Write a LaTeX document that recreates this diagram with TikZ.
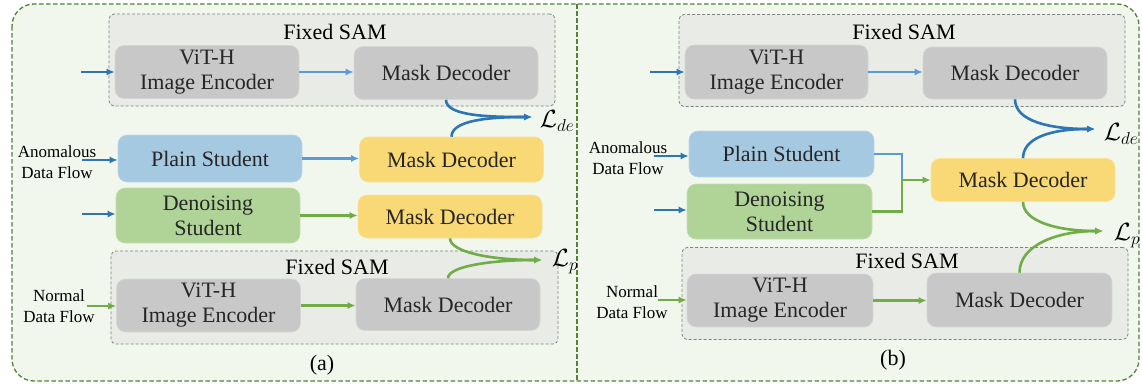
\documentclass[tikz,border=0pt]{standalone}
\usepackage{fontspec}
\setmainfont{Liberation Serif}
\usepackage{xcolor}
\usepackage{tikz}
\usetikzlibrary{arrows.meta,positioning,calc}
\definecolor{framegreen}{RGB}{84,130,53}
\definecolor{panelbg}{RGB}{241,247,237}
\definecolor{sambg}{RGB}{233,236,230}
\definecolor{samgray}{RGB}{130,130,130}
\definecolor{modgray}{RGB}{200,200,200}
\definecolor{plainblue}{RGB}{166,201,226}
\definecolor{denoisegreen}{RGB}{176,211,152}
\definecolor{decyellow}{RGB}{248,217,117}
\definecolor{flowblue}{RGB}{46,117,182}
\definecolor{lightblue}{RGB}{91,155,213}
\definecolor{flowgreen}{RGB}{112,173,71}
\definecolor{textdark}{RGB}{38,38,38}

\begin{document}
\begin{tikzpicture}[x=1pt,y=-1pt,
    module/.style={
      rectangle,
      fill=#1,
      draw=#1!75!white,
      line width=0.6pt,
      rounded corners=9pt,
      minimum width=184pt,
      minimum height=53pt,
      inner sep=0pt,
      align=center,
      text=textdark,
      font=\fontsize{22}{25}\selectfont
    },
    sambox/.style={rectangle, draw=samgray, fill=sambg, dash pattern=on 3pt off 2pt,
      line width=0.8pt, rounded corners=5pt, minimum width=446pt, minimum height=92pt, inner sep=0pt},
    samtitle/.style={font=\fontsize{22}{25}\selectfont, text=black},
    flowlabel/.style={font=\fontsize{17}{21}\selectfont, align=center, text=black},
    losslabel/.style={font=\fontsize{24}{27}\selectfont},
    frame/.style={draw=framegreen, line width=1.3pt, dash pattern=on 4.5pt off 2.5pt},
    bluearrow/.style={-{Latex[length=8pt,width=7pt]}, line width=2.6pt, flowblue},
    lightarrow/.style={-{Latex[length=8pt,width=7pt]}, line width=2.6pt, lightblue},
    greenarrow/.style={-{Latex[length=8pt,width=7pt]}, line width=2.6pt, flowgreen}
  ]
    \useasboundingbox (0,0) rectangle (1142,383);
    \draw[frame, fill=panelbg, rounded corners=22pt] (12,4) rectangle (1139,381);
    \draw[frame] (577,4) -- (577,381);

    % (a)
    \node[sambox] (samAtop) at (332,60) {};
    \node[samtitle] (samAtopT) at (335,32) {Fixed SAM};
    \node[module=modgray] (encAtop) at (207,72) {ViT-H\\Image Encoder};
    \node[module=modgray] (decAtop) at (446,73) {Mask Decoder};
    \node[module=plainblue, minimum height=47pt] (plainA) at (210,158.5) {Plain Student};
    \node[module=decyellow, minimum height=45pt] (mdA1) at (451.5,159.5) {Mask Decoder};
    \node[module=denoisegreen, minimum height=55pt] (denA) at (208,215.5) {Denoising\\Student};
    \node[module=decyellow, minimum height=43pt] (mdA2) at (450,216.5) {Mask Decoder};
    \node[sambox, minimum width=447pt, minimum height=93pt] (samAbot) at (334.5,297.5) {};
    \node[samtitle] (samAbotT) at (337,267) {Fixed SAM};
    \node[module=modgray] (encAbot) at (208.5,305.5) {ViT-H\\Image Encoder};
    \node[module=modgray, minimum height=52pt] (decAbot) at (448,304.5) {Mask Decoder};
    \node[flowlabel] (anomA) at (57,162) {Anomalous\\Data Flow};
    \node[flowlabel] (normA) at (59,306) {Normal\\Data Flow};
    \node[losslabel] (LdeA) at (557,121) {$\mathcal{L}_{de}$};
    \node[losslabel] (LpA) at (565,262) {$\mathcal{L}_{p}$};
    \node[samtitle] (capA) at (322,365) {(a)};
    \coordinate (inAtop) at (81,72);
    \coordinate (inAplain) at (82,160);
    \coordinate (inAden) at (82,214);
    \coordinate (inAnorm) at (87,306);
    \coordinate (LdeAtip) at (532,117);
    \coordinate (LpAtip) at (542,260);

    \draw[bluearrow] (inAtop) -- (inAtop -| encAtop.west);
    \draw[lightarrow] (encAtop.east) -- (encAtop.east -| decAtop.west);
    \draw[bluearrow] (inAplain) -- (inAplain -| plainA.west);
    \draw[lightarrow] (plainA.east) -- (plainA.east -| mdA1.west);
    \draw[bluearrow] (inAden) -- (inAden -| denA.west);
    \draw[greenarrow] (denA.east) -- (denA.east -| mdA2.west);
    \draw[greenarrow] (inAnorm) -- (inAnorm -| encAbot.west);
    \draw[greenarrow] (encAbot.east) -- (encAbot.east -| decAbot.west);
    \draw[bluearrow] (decAtop.south) .. controls +(0,16) and +(-45,0) .. (LdeAtip);
    \draw[bluearrow] (mdA1.north) .. controls +(0,-16) and +(-45,0) .. (LdeAtip);
    \draw[greenarrow] (mdA2.south) .. controls +(0,14) and +(-50,0) .. (LpAtip);
    \draw[greenarrow] (decAbot.north) .. controls +(0,-12) and +(-50,0) .. (LpAtip);

    % (b)
    \node[sambox] (samBtop) at (902,60.5) {};
    \node[samtitle] (samBtopT) at (904,32) {Fixed SAM};
    \node[module=modgray, minimum width=183pt, minimum height=54pt] (encBtop) at (776.5,72) {ViT-H\\Image Encoder};
    \node[module=modgray, minimum height=52pt] (decBtop) at (1015,73) {Mask Decoder};
    \node[module=plainblue, minimum width=185pt, minimum height=46pt] (plainB) at (781.5,154) {Plain Student};
    \node[module=denoisegreen, minimum width=185pt, minimum height=55pt] (denB) at (779.5,211.5) {Denoising\\Student};
    \node[module=decyellow, minimum height=43pt] (mdB) at (1023,180) {Mask Decoder};
    \node[sambox] (samBbot) at (905,293.5) {};
    \node[samtitle] (samBbotT) at (907,261) {Fixed SAM};
    \node[module=modgray, minimum width=186pt] (encBbot) at (780,300.5) {ViT-H\\Image Encoder};
    \node[module=modgray, minimum width=185pt, minimum height=54pt] (decBbot) at (1019.5,300) {Mask Decoder};
    \node[flowlabel] (anomB) at (628,158) {Anomalous\\Data Flow};
    \node[flowlabel] (normB) at (632,302) {Normal\\Data Flow};
    \node[losslabel] (LdeB) at (1121,134) {$\mathcal{L}_{de}$};
    \node[losslabel] (LpB) at (1127,236) {$\mathcal{L}_{p}$};
    \node[samtitle] (capB) at (893,360) {(b)};
    \coordinate (inBtop) at (650,72);
    \coordinate (inBplain) at (654,156);
    \coordinate (inBden) at (654,210);
    \coordinate (inBnorm) at (658,300);
    \coordinate (joinB) at (902,180);
    \coordinate (LdeBtip) at (1095,129);
    \coordinate (LpBtip) at (1103,231);

    \draw[bluearrow] (inBtop) -- (inBtop -| encBtop.west);
    \draw[lightarrow] (encBtop.east) -- (encBtop.east -| decBtop.west);
    \draw[bluearrow] (inBplain) -- (inBplain -| plainB.west);
    \draw[bluearrow] (inBden) -- (inBden -| denB.west);
    \draw[line width=2.6pt, lightblue] (plainB.east) -| (joinB);
    \draw[greenarrow] (denB.east) -| (joinB) -- (joinB -| mdB.west);
    \draw[greenarrow] (inBnorm) -- (inBnorm -| encBbot.west);
    \draw[greenarrow] (encBbot.east) -- (encBbot.east -| decBbot.west);
    \draw[bluearrow] (decBtop.south) .. controls +(0,22) and +(-45,0) .. (LdeBtip);
    \draw[bluearrow] (mdB.north) .. controls +(0,-20) and +(-45,0) .. (LdeBtip);
    \draw[greenarrow] (mdB.south) .. controls +(0,20) and +(-45,0) .. (LpBtip);
    \draw[greenarrow] (decBbot.north) .. controls +(0,-28) and +(-45,0) .. (LpBtip);
  \end{tikzpicture}
\end{document}
